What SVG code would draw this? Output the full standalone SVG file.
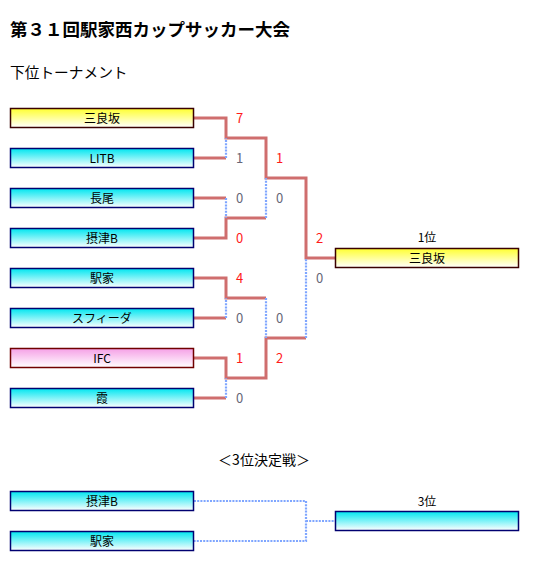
<svg xmlns="http://www.w3.org/2000/svg" width="534" height="579" viewBox="0 0 534 579">
<defs>
<linearGradient id="gc" x1="0" y1="0" x2="0" y2="1"><stop offset="0" stop-color="#00e6f0"/><stop offset="1" stop-color="#ffffff"/></linearGradient>
<linearGradient id="gy" x1="0" y1="0" x2="0" y2="1"><stop offset="0" stop-color="#ffff30"/><stop offset="1" stop-color="#ffffff"/></linearGradient>
<linearGradient id="gp" x1="0" y1="0" x2="0" y2="1"><stop offset="0" stop-color="#f5a0e6"/><stop offset="1" stop-color="#ffffff"/></linearGradient>
<style>
text{font-family:"Noto Sans CJK JP","Noto Sans",sans-serif;}
.c{fill:url(#gc);stroke:#000070;stroke-width:1.5}
.y{fill:url(#gy);stroke:#3a0000;stroke-width:1.5}
.p{fill:url(#gp);stroke:#700000;stroke-width:1.5}
.bt{font-size:12px;text-anchor:middle;fill:#000}
.w{fill:none;stroke:#cc6666;stroke-width:3;stroke-opacity:0.95}
.l{fill:none;stroke:#7fa6ff;stroke-width:2.2;stroke-dasharray:2 1.2}
.sw{font-size:13px;fill:#ff1a1a}
.sl{font-size:13px;fill:#666677}
</style>
</defs>
<rect width="534" height="579" fill="#fff"/>
<text x="10" y="36" font-size="17.5" font-weight="bold" fill="#000">第３１回駅家西カップサッカー大会</text>
<text x="10" y="78" font-size="14.7" fill="#000">下位トーナメント</text>

<g id="connectors">
<path class="w" d="M194 118H226V138H266V178H306V258H335"/>
<path class="w" d="M194 158H226"/>
<path class="w" d="M194 198H226"/>
<path class="w" d="M194 238H226V218H266"/>
<path class="w" d="M194 278H226V298H266"/>
<path class="w" d="M194 318H226"/>
<path class="w" d="M194 358H226V378H266V338H306"/>
<path class="w" d="M194 398H226"/>
<path class="l" d="M226 158V138"/>
<path class="l" d="M226 198V218"/>
<path class="l" d="M266 218V178"/>
<path class="l" d="M226 318V298"/>
<path class="l" d="M226 398V378"/>
<path class="l" d="M266 298V338"/>
<path class="l" d="M306 338V258"/>
<path class="l" d="M194 501H306V541H194"/>
<path class="l" d="M306 521H335"/>
</g>

<g id="scores">
<text class="sw" x="236" y="122.5">7</text>
<text class="sl" x="236" y="162.5">1</text>
<text class="sl" x="236" y="202.5">0</text>
<text class="sw" x="236" y="242.5">0</text>
<text class="sw" x="236" y="282.5">4</text>
<text class="sl" x="236" y="322.5">0</text>
<text class="sw" x="236" y="362.5">1</text>
<text class="sl" x="236" y="402.5">0</text>
<text class="sw" x="276" y="162.5">1</text>
<text class="sl" x="276" y="202.5">0</text>
<text class="sl" x="276" y="322.5">0</text>
<text class="sw" x="276" y="362.5">2</text>
<text class="sw" x="316" y="242.5">2</text>
<text class="sl" x="316" y="282.5">0</text>
</g>

<g id="n1"><rect class="y" x="10.5" y="108.5" width="183" height="19"/><text class="bt" x="102" y="122.5">三良坂</text></g>
<g id="n2"><rect class="c" x="10.5" y="148.5" width="183" height="19"/><text class="bt" x="102" y="162.5">LITB</text></g>
<g id="n3"><rect class="c" x="10.5" y="188.5" width="183" height="19"/><text class="bt" x="102" y="202.5">長尾</text></g>
<g id="n4"><rect class="c" x="10.5" y="228.5" width="183" height="19"/><text class="bt" x="102" y="242.5">摂津B</text></g>
<g id="n5"><rect class="c" x="10.5" y="268.5" width="183" height="19"/><text class="bt" x="102" y="282.5">駅家</text></g>
<g id="n6"><rect class="c" x="10.5" y="308.5" width="183" height="19"/><text class="bt" x="102" y="322.5">スフィーダ</text></g>
<g id="n7"><rect class="p" x="10.5" y="348.5" width="183" height="19"/><text class="bt" x="102" y="362.5">IFC</text></g>
<g id="n8"><rect class="c" x="10.5" y="388.5" width="183" height="19"/><text class="bt" x="102" y="402.5">霞</text></g>

<g id="champion"><text class="bt" x="427" y="242">1位</text><rect class="y" x="335.5" y="248.5" width="183" height="19"/><text class="bt" x="427" y="262.5">三良坂</text></g>

<text x="264" y="465" font-size="14" text-anchor="middle" fill="#000">＜3位決定戦＞</text>

<g id="t1"><rect class="c" x="10.5" y="491.5" width="183" height="19"/><text class="bt" x="102" y="505.5">摂津B</text></g>
<g id="t2"><rect class="c" x="10.5" y="531.5" width="183" height="19"/><text class="bt" x="102" y="545.5">駅家</text></g>
<g id="third"><text class="bt" x="427" y="506">3位</text><rect class="c" x="335.5" y="511.5" width="183" height="19"/></g>
</svg>
